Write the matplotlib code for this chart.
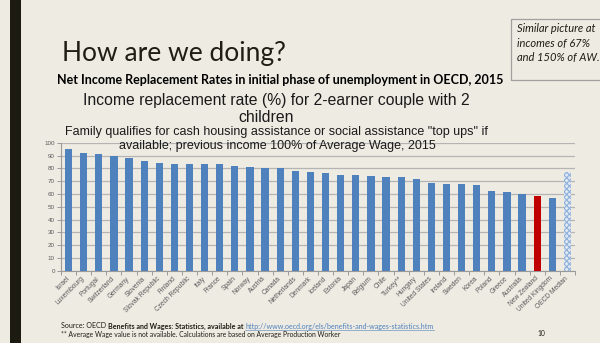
import matplotlib
matplotlib.use("Agg")
import matplotlib.pyplot as plt
import numpy as np

countries = ["Israel", "Luxembourg", "Portugal", "Switzerland", "Germany", "Slovenia",
             "Slovak Republic", "Finland", "Czech Republic", "Italy", "France", "Spain",
             "Norway", "Austria", "Canada", "Netherlands", "Denmark", "Iceland", "Estonia",
             "Japan", "Belgium", "Chile", "Turkey**", "Hungary", "United States", "Ireland",
             "Sweden", "Korea", "Poland", "Greece", "Australia", "New Zealand",
             "United Kingdom", "OECD Median"]
values = [95, 92, 91, 90, 88, 86, 84, 83.5, 83, 83, 83, 81.5, 81, 80.5, 80, 78, 77,
          76.5, 75, 74.5, 74, 73.5, 73, 71.5, 68.5, 68, 67.5, 67, 62.5, 61.5, 60, 58,
          57, 77]
yticks = list(range(0, 101, 10))

BG = "#eeebe3"
BLUE = "#4f81bd"
RED = "#c00000"

plt.rcParams["hatch.linewidth"] = 0.8
fig = plt.figure(figsize=(6, 3.43), dpi=100, facecolor=BG)

# dark left bar
fig.patches.append(plt.Rectangle((10/600, 0), 11/600, 1, transform=fig.transFigure,
                                 facecolor="#1c1b12", edgecolor="none"))

ax = fig.add_axes([61/600, 1-270.7/343, 514/600, 128/343])
ax.set_facecolor(BG)
x = np.arange(len(countries))
colors = [BLUE] * len(countries)
colors[countries.index("New Zealand")] = RED
ax.bar(x[:-1], values[:-1], width=0.48, color=colors[:-1], zorder=3)
ax.bar(x[-1:], values[-1:], width=0.48, facecolor="#dfe8f3", edgecolor="#8fb0d9",
       hatch="xxxxxx", linewidth=0, zorder=3)
ax.set_xlim(-0.5, len(countries) - 0.5)
ax.set_ylim(0, 100)
ax.set_yticks(yticks)
ax.set_yticklabels([str(v) for v in yticks], fontsize=4.5, color="#595959",
                   family="Liberation Sans")
ax.grid(axis="y", color="#b4b4b4", linewidth=0.9, zorder=0)
ax.set_xticks(x)
ax.set_xticklabels(countries, rotation=45, ha="right", va="center",
                   rotation_mode="anchor", fontsize=4.8, color="#595959",
                   family="Liberation Sans")
ax.set_xticks(np.arange(-0.5, len(countries), 1), minor=True)
ax.tick_params(axis="x", which="major", length=0, pad=5)
ax.tick_params(axis="x", which="minor", length=3, color="#9a9a9a", width=0.7)
ax.tick_params(axis="y", length=3, color="#9a9a9a", width=0.7, pad=1.5)
for s in ["top", "right"]:
    ax.spines[s].set_visible(False)
for s in ["left", "bottom"]:
    ax.spines[s].set_color("#9a9a9a")
    ax.spines[s].set_linewidth(0.8)

def fy(py):
    return 1 - py / 343

# titles
fig.text(62/600, fy(61), "How are we doing?", fontsize=19, family="Lato",
         fontweight="normal", color="#1e1e14", va="baseline", ha="left")
fig.text(280/600, fy(80.5), "Net Income Replacement Rates in initial phase of unemployment in OECD, 2015",
         fontsize=9.0, family="Lato", fontweight="bold", color="black", ha="center", va="center")
fig.text(276/600, fy(100), "Income replacement rate (%) for 2-earner couple with 2",
         fontsize=11.3, family="Liberation Sans", color="#1a1a1a", ha="center", va="center")
fig.text(266/600, fy(117), "children",
         fontsize=11.3, family="Liberation Sans", color="#1a1a1a", ha="center", va="center")
fig.text(276/600, fy(132.5), 'Family qualifies for cash housing assistance or social assistance "top ups" if',
         fontsize=9.0, family="Liberation Sans", color="#1a1a1a", ha="center", va="center")
fig.text(277/600, fy(145.5), "available; previous income 100% of Average Wage, 2015",
         fontsize=9.0, family="Liberation Sans", color="#1a1a1a", ha="center", va="center")

# side box
fig.patches.append(plt.Rectangle((511/600, fy(80)), 100/600, 61/343, transform=fig.transFigure,
                                 facecolor="none", edgecolor="#a0a0a0", linewidth=0.9))
for i, line in enumerate(["Similar picture at", "incomes of 67%", "and 150% of AW."]):
    fig.text(517/600, fy(29 + 14.5 * i), line, fontsize=8.0, family="Lato",
             style="italic", color="#1e1e14", ha="left", va="center")

# source lines (placed sequentially)
fig.canvas.draw()
renderer = fig.canvas.get_renderer()
xpos = 61
parts = [("Source: OECD ", "normal", "#1e1e14"),
         ("Benefits and Wages: Statistics, available at ", "bold", "#1e1e14"),
         ("http://www.oecd.org/els/benefits-and-wages-statistics.htm", "normal", "#4f81bd")]
for txt, w, c in parts:
    t = fig.text(xpos/600, fy(326), txt, fontsize=5.1, family="Lato", fontweight=w,
                 color=c, ha="left", va="center")
    bb = t.get_window_extent(renderer)
    if c == "#4f81bd":
        fig.add_artist(plt.Line2D([bb.x0/600, bb.x1/600], [fy(329.5), fy(329.5)],
                                  transform=fig.transFigure, color=c, linewidth=0.4))
    xpos += bb.width
fig.text(61/600, fy(334), "** Average Wage value is not available. Calculations are based on Average Production Worker",
         fontsize=4.9, family="Lato", color="#1e1e14", ha="left", va="center")
fig.text(537/600, fy(334), "10", fontsize=4.9, family="Lato", color="#1e1e14",
         ha="left", va="center")

fig.savefig("out.png", dpi=100, facecolor=BG)
